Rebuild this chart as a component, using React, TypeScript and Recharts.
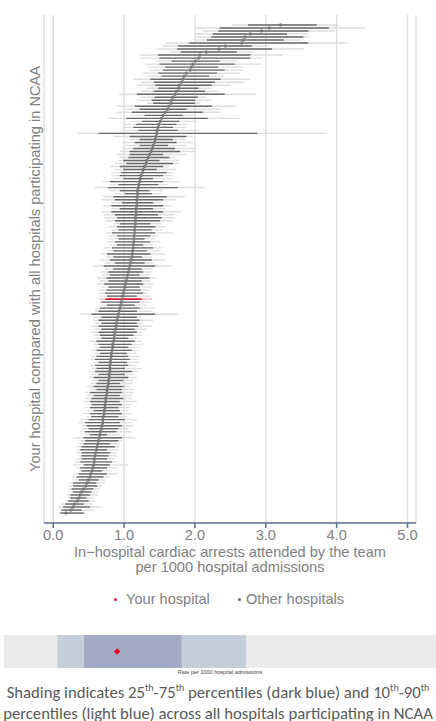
import React from 'react';
import { ScatterChart, Scatter, XAxis, YAxis, CartesianGrid, ErrorBar, ReferenceArea } from 'recharts';

const estimate = [
  3.21, 3.05, 2.94, 2.78, 2.71, 2.68, 2.66, 2.43, 2.34, 2.16,
  2.07, 2.05, 2.01, 1.97, 1.95, 1.93, 1.88, 1.85, 1.83, 1.81,
  1.78, 1.77, 1.74, 1.72, 1.69, 1.67, 1.66, 1.63, 1.61, 1.58,
  1.55, 1.53, 1.51, 1.49, 1.48, 1.47, 1.46, 1.45, 1.44, 1.43,
  1.41, 1.40, 1.38, 1.36, 1.34, 1.32, 1.31, 1.29, 1.27, 1.26,
  1.24, 1.23, 1.22, 1.21, 1.20, 1.19, 1.19, 1.19, 1.18, 1.18,
  1.18, 1.17, 1.17, 1.17, 1.16, 1.16, 1.16, 1.15, 1.15, 1.15,
  1.14, 1.14, 1.14, 1.13, 1.13, 1.12, 1.12, 1.11, 1.10, 1.09,
  1.08, 1.07, 1.06, 1.05, 1.04, 1.03, 1.02, 1.01, 1.00, 0.99,
  0.98, 0.97, 0.96, 0.95, 0.94, 0.93, 0.92, 0.91, 0.90, 0.89,
  0.89, 0.88, 0.87, 0.86, 0.86, 0.85, 0.84, 0.84, 0.83, 0.82,
  0.82, 0.81, 0.81, 0.80, 0.80, 0.80, 0.79, 0.79, 0.78, 0.78,
  0.77, 0.76, 0.76, 0.75, 0.74, 0.74, 0.73, 0.73, 0.72, 0.72,
  0.71, 0.70, 0.70, 0.69, 0.68, 0.67, 0.66, 0.65, 0.64, 0.63,
  0.62, 0.61, 0.60, 0.59, 0.58, 0.58, 0.57, 0.56, 0.55, 0.53,
  0.52, 0.50, 0.48, 0.46, 0.43, 0.40, 0.38, 0.36, 0.34, 0.30,
  0.28, 0.25, 0.18,
];

const innerLow = [
  2.75, 2.35, 2.33, 2.25, 2.23, 2.17, 1.92, 1.76, 1.75, 1.80,
  1.48, 1.50, 1.67, 1.50, 1.58, 1.55, 1.48, 1.53, 1.37, 1.42,
  1.44, 1.48, 1.42, 1.18, 1.43, 1.39, 1.41, 1.15, 1.22, 1.11,
  1.29, 1.03, 1.25, 1.17, 1.13, 1.20, 0.64, 1.08, 1.22, 1.15,
  1.22, 1.13, 1.08, 1.08, 1.06, 0.99, 1.03, 0.94, 0.99, 0.96,
  0.94, 0.99, 0.80, 0.92, 0.77, 0.94, 1.01, 0.85, 0.87, 0.97,
  0.82, 0.94, 0.82, 0.87, 0.90, 0.87, 0.94, 0.90, 0.92, 0.83,
  0.90, 0.92, 0.87, 0.90, 0.83, 0.85, 0.76, 0.85, 0.80, 0.87,
  0.71, 0.85, 0.78, 0.80, 0.75, 0.78, 0.72, 0.78, 0.75, 0.73,
  0.76, 0.74, 0.68, 0.76, 0.66, 0.64, 0.54, 0.68, 0.64, 0.68,
  0.64, 0.68, 0.64, 0.66, 0.68, 0.61, 0.64, 0.66, 0.61, 0.66,
  0.61, 0.59, 0.64, 0.59, 0.61, 0.59, 0.64, 0.57, 0.64, 0.61,
  0.57, 0.61, 0.52, 0.57, 0.54, 0.52, 0.54, 0.52, 0.57, 0.52,
  0.54, 0.50, 0.45, 0.47, 0.50, 0.45, 0.52, 0.43, 0.45, 0.43,
  0.40, 0.38, 0.40, 0.40, 0.40, 0.38, 0.43, 0.38, 0.40, 0.36,
  0.33, 0.36, 0.28, 0.28, 0.26, 0.28, 0.24, 0.24, 0.21, 0.17,
  0.14, 0.12, 0.10,
];

const innerHigh = [
  3.72, 3.89, 3.60, 3.30, 3.53, 3.25, 3.60, 2.80, 3.09, 2.59,
  2.78, 2.78, 2.35, 2.56, 2.33, 2.42, 2.31, 2.20, 2.36, 2.28,
  2.24, 2.05, 2.14, 2.42, 2.04, 2.00, 2.00, 2.24, 1.88, 2.11,
  1.83, 2.18, 1.78, 1.74, 1.69, 1.76, 2.88, 1.88, 1.69, 1.74,
  1.62, 1.72, 1.79, 1.55, 1.64, 1.50, 1.69, 1.55, 1.46, 1.60,
  1.55, 1.41, 1.55, 1.48, 1.76, 1.36, 1.39, 1.60, 1.55, 1.41,
  1.55, 1.41, 1.55, 1.48, 1.53, 1.51, 1.37, 1.44, 1.39, 1.44,
  1.37, 1.29, 1.37, 1.27, 1.41, 1.32, 1.37, 1.25, 1.39, 1.29,
  1.44, 1.25, 1.27, 1.22, 1.36, 1.25, 1.27, 1.22, 1.24, 1.27,
  1.18, 1.25, 1.22, 1.15, 1.22, 1.18, 1.44, 1.18, 1.22, 1.18,
  1.20, 1.15, 1.18, 1.13, 1.06, 1.15, 1.11, 1.06, 1.11, 1.04,
  1.06, 1.08, 1.04, 1.06, 1.01, 1.11, 1.01, 1.06, 0.99, 0.94,
  0.99, 0.97, 0.97, 0.94, 0.99, 0.94, 0.97, 0.92, 0.94, 0.97,
  0.92, 1.01, 0.94, 0.97, 0.92, 0.89, 0.76, 0.97, 0.92, 0.80,
  0.87, 0.76, 0.80, 0.78, 0.76, 0.83, 0.80, 0.76, 0.69, 0.76,
  0.71, 0.64, 0.61, 0.62, 0.57, 0.54, 0.52, 0.47, 0.50, 0.43,
  0.52, 0.40, 0.43,
];

const outerLow = [
  2.52, 2.01, 2.11, 2.01, 2.02, 2.00, 1.58, 1.55, 1.46, 1.64,
  1.22, 1.22, 1.45, 1.30, 1.34, 1.37, 1.27, 1.30, 1.13, 1.23,
  1.18, 1.32, 1.23, 0.93, 1.23, 1.20, 1.32, 0.90, 1.03, 0.89,
  1.08, 0.78, 1.08, 0.99, 0.99, 1.02, 0.35, 0.85, 1.08, 0.99,
  1.03, 0.99, 0.94, 0.89, 0.94, 0.92, 0.87, 0.80, 0.87, 0.82,
  0.82, 0.85, 0.70, 0.78, 0.59, 0.80, 0.87, 0.71, 0.68, 0.82,
  0.71, 0.82, 0.68, 0.71, 0.71, 0.73, 0.85, 0.78, 0.82, 0.73,
  0.78, 0.78, 0.75, 0.80, 0.71, 0.75, 0.68, 0.75, 0.66, 0.73,
  0.57, 0.73, 0.66, 0.69, 0.62, 0.66, 0.62, 0.68, 0.64, 0.64,
  0.66, 0.65, 0.64, 0.64, 0.59, 0.59, 0.39, 0.57, 0.57, 0.59,
  0.54, 0.59, 0.52, 0.57, 0.59, 0.52, 0.57, 0.59, 0.54, 0.57,
  0.52, 0.52, 0.57, 0.52, 0.54, 0.50, 0.54, 0.50, 0.54, 0.52,
  0.47, 0.52, 0.45, 0.47, 0.45, 0.43, 0.47, 0.45, 0.47, 0.43,
  0.47, 0.38, 0.36, 0.40, 0.40, 0.38, 0.43, 0.28, 0.38, 0.36,
  0.33, 0.33, 0.33, 0.36, 0.33, 0.31, 0.28, 0.33, 0.36, 0.28,
  0.26, 0.28, 0.24, 0.22, 0.21, 0.24, 0.19, 0.21, 0.17, 0.12,
  0.07, 0.10, 0.07,
];

const outerHigh = [
  4.02, 4.40, 3.97, 3.60, 3.62, 3.50, 4.17, 3.05, 3.54, 2.83,
  3.24, 2.94, 2.62, 2.94, 2.68, 2.68, 2.64, 2.41, 2.78, 2.71,
  2.50, 2.24, 2.33, 2.86, 2.15, 2.24, 2.07, 2.59, 2.37, 2.37,
  2.02, 2.63, 2.02, 1.88, 1.88, 2.05, 3.86, 1.97, 1.88, 1.97,
  1.88, 2.02, 2.02, 1.88, 1.72, 1.78, 1.78, 1.64, 1.74, 1.71,
  1.69, 1.69, 1.78, 1.62, 2.14, 1.55, 1.53, 1.86, 1.74, 1.53,
  1.67, 1.58, 1.81, 1.72, 1.72, 1.69, 1.53, 1.58, 1.55, 1.69,
  1.48, 1.44, 1.51, 1.41, 1.53, 1.51, 1.58, 1.39, 1.58, 1.41,
  1.67, 1.39, 1.39, 1.37, 1.46, 1.37, 1.41, 1.39, 1.36, 1.34,
  1.37, 1.40, 1.37, 1.32, 1.44, 1.39, 1.76, 1.25, 1.41, 1.27,
  1.39, 1.32, 1.25, 1.25, 1.18, 1.25, 1.27, 1.22, 1.20, 1.18,
  1.22, 1.18, 1.22, 1.18, 1.25, 1.20, 1.15, 1.18, 1.13, 1.11,
  1.08, 1.15, 1.13, 1.11, 1.11, 1.18, 1.11, 1.08, 1.06, 1.11,
  1.04, 1.18, 1.11, 1.13, 1.06, 1.11, 0.94, 1.15, 0.97, 0.94,
  0.94, 0.92, 0.90, 0.90, 0.87, 0.90, 1.06, 0.92, 0.83, 0.92,
  0.80, 0.73, 0.73, 0.70, 0.66, 0.64, 0.64, 0.57, 0.59, 0.54,
  0.68, 0.57, 0.47,
];

const yourHospitalRow = 91;
const xTicks = [0, 1, 2, 3, 4, 5];

// Percentile band strip
const stripDomain = [0.25, 3.0];
const pct10 = 0.59;
const pct25 = 0.76;
const pct75 = 1.38;
const pct90 = 1.79;

const allRows = estimate.map((e, i) => ({
  row: i,
  x: e,
  outerErr: [e - outerLow[i], outerHigh[i] - e],
  innerErr: [e - innerLow[i], innerHigh[i] - e],
}));
const otherRows = allRows.filter((r) => r.row !== yourHospitalRow);
const yourRows = allRows.filter((r) => r.row === yourHospitalRow);
const stripPoint = [{ x: estimate[yourHospitalRow], y: 0.5 }];

const FONT = '"Liberation Sans", Arial, sans-serif';
const GREY_TEXT = '#808080';
const TEXT_SIZE = 14.6;

const PointMark = (props: any) => {
  const { cx, cy } = props;
  if (cx == null || cy == null) return null;
  return <rect x={cx - 1.2} y={cy - 1.5} width={2.4} height={3} fill="#777777" />;
};

const Diamond = (props: any) => {
  const { cx, cy } = props;
  if (cx == null || cy == null) return null;
  const s = 3.2;
  return <path d={`M${cx},${cy - s} L${cx + s},${cy} L${cx},${cy + s} L${cx - s},${cy} Z`} fill="#e5001e" />;
};

const YLabel = (props: any) => {
  const vb = props.viewBox || { x: 0, y: 15, width: 44, height: 508 };
  const cx = vb.x + 35;
  const cy = vb.y + vb.height / 2;
  return (
    <text
      x={cx}
      y={cy}
      transform={`rotate(-90 ${cx} ${cy})`}
      textAnchor="middle"
      dominantBaseline="central"
      fill={GREY_TEXT}
      fontSize={TEXT_SIZE}
      fontFamily={FONT}
    >
      Your hospital compared with all hospitals participating in NCAA
    </text>
  );
};

const supStyle = { fontSize: 10, lineHeight: 0 };
const captionLine = {
  position: 'absolute' as const,
  left: 0,
  width: 436,
  textAlign: 'center' as const,
  fontSize: 16.7,
  lineHeight: '17px',
  color: '#595959',
  fontFamily: 'Carlito, Lato, sans-serif',
  whiteSpace: 'nowrap' as const,
};

export default function App() {
  return (
    <div style={{ position: 'absolute', left: 0, top: 0, width: 436, height: 721, background: '#fff', fontFamily: FONT }}>
      <ScatterChart width={436} height={545} margin={{ top: 15, right: 20, bottom: 0, left: 0 }}>
        <CartesianGrid horizontal={false} stroke="#e0e0e0" strokeWidth={1.5} />
        <XAxis
          type="number"
          dataKey="x"
          domain={[-0.13, 5.12]}
          ticks={xTicks}
          interval={0}
          allowDataOverflow
          height={22}
          tickFormatter={(v: number) => v.toFixed(1)}
          axisLine={{ stroke: '#5a6d94', strokeWidth: 1.5 }}
          tickLine={{ stroke: '#5a6d94', strokeWidth: 1.5 }}
          tickSize={5}
          tick={{ fill: GREY_TEXT, fontSize: TEXT_SIZE, fontFamily: FONT }}
        />
        <YAxis
          type="number"
          dataKey="row"
          domain={[-3.3, 165.3]}
          reversed
          allowDataOverflow
          width={44}
          tick={false}
          tickLine={false}
          axisLine={false}
          label={{ content: YLabel }}
        />
        <Scatter data={otherRows} isAnimationActive={false} shape={PointMark}>
          <ErrorBar dataKey="outerErr" direction="x" width={0} stroke="#dedede" strokeWidth={1.4} isAnimationActive={false} />
          <ErrorBar dataKey="innerErr" direction="x" width={0} stroke="#6a6a6a" strokeWidth={1.4} isAnimationActive={false} />
        </Scatter>
        <Scatter data={yourRows} isAnimationActive={false} shape={PointMark}>
          <ErrorBar dataKey="outerErr" direction="x" width={0} stroke="#f7c4ce" strokeWidth={1.8} isAnimationActive={false} />
          <ErrorBar dataKey="innerErr" direction="x" width={0} stroke="#e8193c" strokeWidth={1.8} isAnimationActive={false} />
        </Scatter>
      </ScatterChart>

      <div style={{ position: 'absolute', top: 545, left: 44, width: 372, textAlign: 'center', fontSize: TEXT_SIZE, lineHeight: '15px', color: GREY_TEXT }}>
        <div>In−hospital cardiac arrests attended by the team</div>
        <div>per 1000 hospital admissions</div>
      </div>

      <div style={{ position: 'absolute', top: 591, left: 0, width: 436, height: 16, fontSize: TEXT_SIZE, lineHeight: '16px', color: GREY_TEXT }}>
        <span style={{ position: 'absolute', left: 114, top: 7, width: 3, height: 3, borderRadius: 2, background: '#e8193c' }} />
        <span style={{ position: 'absolute', left: 126, top: 0 }}>Your hospital</span>
        <span style={{ position: 'absolute', left: 238, top: 7, width: 3, height: 3, borderRadius: 2, background: '#666' }} />
        <span style={{ position: 'absolute', left: 246, top: 0 }}>Other hospitals</span>
      </div>

      <div style={{ position: 'absolute', top: 635, left: 4 }}>
        <ScatterChart width={432} height={33} margin={{ top: 0, right: 0, bottom: 0, left: 0 }}>
          <XAxis type="number" dataKey="x" domain={stripDomain} hide allowDataOverflow />
          <YAxis type="number" dataKey="y" domain={[0, 1]} hide allowDataOverflow />
          <ReferenceArea x1={stripDomain[0]} x2={stripDomain[1]} y1={0} y2={1} fill="#ebebeb" fillOpacity={1} stroke="none" />
          <ReferenceArea x1={pct10} x2={pct90} y1={0} y2={1} fill="#c6cddb" fillOpacity={1} stroke="none" />
          <ReferenceArea x1={pct25} x2={pct75} y1={0} y2={1} fill="#a2abc3" fillOpacity={1} stroke="none" />
          <Scatter data={stripPoint} isAnimationActive={false} shape={Diamond} />
        </ScatterChart>
      </div>

      <div style={{ position: 'absolute', top: 669, left: 4, width: 432, textAlign: 'center', fontSize: 5.5, lineHeight: '6px', color: '#444' }}>
        Rate per 1000 hospital admissions
      </div>

      <div style={{ ...captionLine, top: 684 }}>
        Shading indicates 25<sup style={supStyle}>th</sup>-75<sup style={supStyle}>th</sup> percentiles (dark blue) and 10<sup style={supStyle}>th</sup>-90<sup style={supStyle}>th</sup>
      </div>
      <div style={{ ...captionLine, top: 704.5 }}>
        percentiles (light blue) across all hospitals participating in NCAA
      </div>
    </div>
  );
}
